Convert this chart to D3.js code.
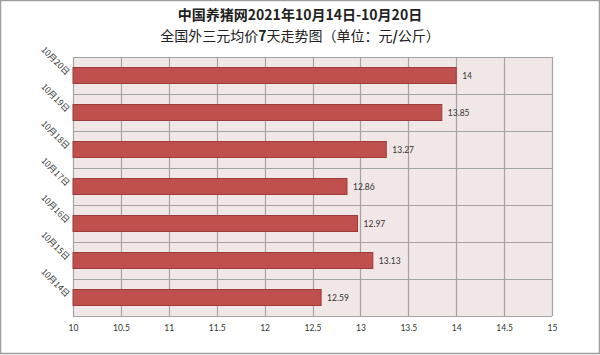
<!DOCTYPE html>
<html>
<head>
<meta charset="utf-8">
<script src="https://cdn.jsdelivr.net/npm/d3@7"></script>
<style>
  body { margin: 0; background: #fff; }
  svg { display: block; }
</style>
</head>
<body>
<div id="chart"></div>
<script>
// categories, oldest first (drawn bottom to top)
var dates = ["10月14日", "10月15日", "10月16日", "10月17日", "10月18日", "10月19日", "10月20日"];
var prices = [12.59, 13.13, 12.97, 12.86, 13.27, 13.85, 14];
var xTicks = [10, 10.5, 11, 11.5, 12, 12.5, 13, 13.5, 14, 14.5, 15];
// title pieces: [text, bold]
var titleLine1 = [["中国养猪网2021年10月14日-10月20日", true]];
var titleLine2 = [["全国外三元均价", false], ["7", true], ["天走势图（单位：元", false], ["/", true], ["公斤）", false]];

var width = 600, height = 355;
var plot = {left: 73, right: 552, top: 57, bottom: 316};

var svg = d3.select("#chart").append("svg")
    .attr("width", width)
    .attr("height", height);

// outer frame
svg.append("rect")
    .attr("x", 0.5).attr("y", 0.5)
    .attr("width", width - 1).attr("height", height - 2)
    .style("fill", "#fff")
    .style("stroke", "#9e9e9e")
    .style("stroke-width", 1.5);

// title
var title = svg.append("g");
[titleLine1, titleLine2].forEach(function(parts, i) {
    title.append("text")
        .attr("x", 300)
        .attr("y", 20 + i * 21)
        .attr("text-anchor", "middle")
        .style("font-family", "'Noto Sans CJK SC', sans-serif")
        .style("font-size", "14px")
        .style("fill", "#222")
        .selectAll("tspan")
        .data(parts)
        .enter()
        .append("tspan")
        .style("font-weight", function(d) { return d[1] ? "bold" : "normal"; })
        .text(function(d) { return d[0]; });
});

var x = d3.scaleLinear()
    .domain([10, 15])
    .range([plot.left, plot.right]);

var y = d3.scaleBand()
    .domain(dates.slice().reverse())
    .range([plot.top, plot.bottom])
    .paddingInner(0)
    .paddingOuter(0);

// plot background
svg.append("rect")
    .attr("x", plot.left).attr("y", plot.top)
    .attr("width", plot.right - plot.left)
    .attr("height", plot.bottom - plot.top)
    .style("fill", "#f2e7e7");

// grid lines
var grid = svg.append("g");
grid.selectAll("line.v")
    .data(xTicks)
    .enter()
    .append("line")
    .attr("class", "v")
    .attr("x1", function(d) { return Math.round(x(d)) + 0.5; })
    .attr("x2", function(d) { return Math.round(x(d)) + 0.5; })
    .attr("y1", plot.top)
    .attr("y2", plot.bottom)
    .style("stroke", "#a3a3a3")
    .style("stroke-width", 1.2);
grid.selectAll("line.h")
    .data(dates.concat([null]))
    .enter()
    .append("line")
    .attr("class", "h")
    .attr("x1", plot.left)
    .attr("x2", plot.right)
    .attr("y1", function(d, i) { return Math.round(plot.top + i * y.step()) + 0.5; })
    .attr("y2", function(d, i) { return Math.round(plot.top + i * y.step()) + 0.5; })
    .style("stroke", "#a3a3a3")
    .style("stroke-width", 1.2);

// bars
var barH = 16;
svg.append("g").selectAll("rect")
    .data(prices)
    .enter()
    .append("rect")
    .attr("x", x(10))
    .attr("y", function(d, i) { return y(dates[i]) + y.bandwidth() / 2 - barH / 2; })
    .attr("width", function(d) { return x(d) - x(10); })
    .attr("height", barH)
    .style("fill", "#c0504d")
    .style("stroke", "#9d3c3a")
    .style("stroke-width", 1);

// value labels
svg.append("g").selectAll("text")
    .data(prices)
    .enter()
    .append("text")
    .attr("x", function(d) { return x(d) + 6; })
    .attr("y", function(d, i) { return y(dates[i]) + y.bandwidth() / 2 + 3; })
    .style("font-family", "Lato, sans-serif")
    .style("font-size", "8.5px")
    .style("fill", "#333")
    .text(function(d) { return d; });

// x axis
var xAxis = svg.append("g")
    .attr("transform", "translate(0," + plot.bottom + ")")
    .call(d3.axisBottom(x).tickValues(xTicks).tickSize(0).tickPadding(9)
        .tickFormat(function(d) { return d; }));
xAxis.select(".domain").remove();
xAxis.selectAll("text")
    .style("font-family", "Lato, sans-serif")
    .style("font-size", "8.5px")
    .style("fill", "#333");

// y labels, slanted
svg.append("g").selectAll("text")
    .data(dates)
    .enter()
    .append("text")
    .attr("transform", function(d) {
        return "translate(" + (plot.left - 7) + "," + (y(d) + y.bandwidth() / 2) + ") rotate(45)";
    })
    .attr("text-anchor", "end")
    .style("font-family", "'Noto Sans CJK SC', sans-serif")
    .style("font-size", "8.5px")
    .style("fill", "#333")
    .text(function(d) { return d; });
</script>
</body>
</html>
